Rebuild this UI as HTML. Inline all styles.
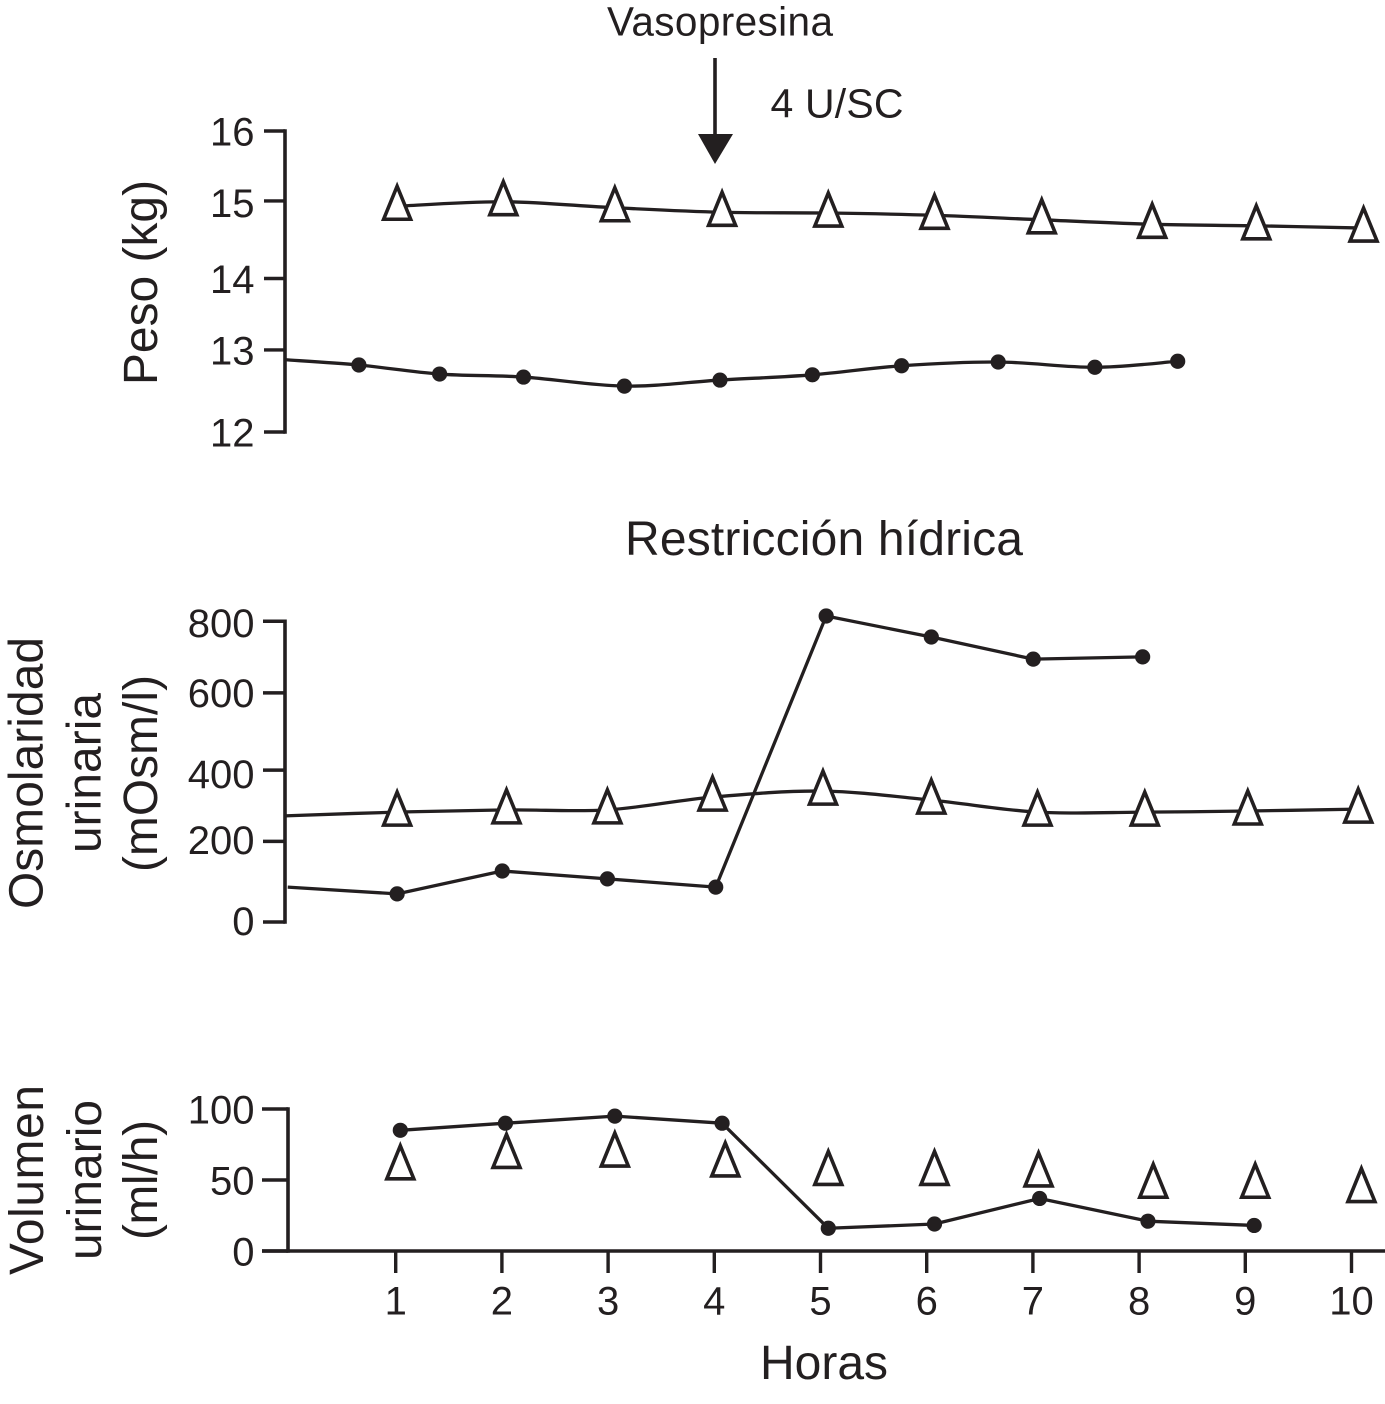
<!DOCTYPE html>
<html lang="es">
<head>
<meta charset="utf-8">
<title>Restricción hídrica y vasopresina</title>
<style>
html,body{margin:0;padding:0;background:#fff;}
svg{display:block;}
text{font-family:"Liberation Sans",Arial,sans-serif;fill:#231f20;}
</style>
</head>
<body>
<svg id="chart" xmlns="http://www.w3.org/2000/svg" width="1385" height="1404" viewBox="0 0 1385 1404">
  <rect x="0" y="0" width="1385" height="1404" fill="#ffffff"/>
  <text x="607" y="35.5" font-size="40.5" textLength="226">Vasopresina</text>
  <text x="770.5" y="117.5" font-size="41" textLength="133">4 U/SC</text>
  <line x1="715" y1="58" x2="715" y2="138" stroke="#231f20" stroke-width="3.6"/>
  <polygon points="698,134 733,134 715,164" fill="#231f20"/>
  <text x="625" y="555" font-size="48" textLength="398">Restricción hídrica</text>
  <text transform="translate(157,385) rotate(-90)" font-size="47.8" textLength="205">Peso (kg)</text>
  <text transform="translate(42.5,909) rotate(-90)" font-size="47.8" textLength="272">Osmolaridad</text>
  <text transform="translate(100.7,853) rotate(-90)" font-size="47.8" textLength="160">urinaria</text>
  <text transform="translate(157,872) rotate(-90)" font-size="47.8" textLength="197">(mOsm/l)</text>
  <text transform="translate(43,1275) rotate(-90)" font-size="47.8" textLength="190">Volumen</text>
  <text transform="translate(101,1260) rotate(-90)" font-size="47.8" textLength="160">urinario</text>
  <text transform="translate(157,1240) rotate(-90)" font-size="47.8" textLength="120">(ml/h)</text>
  <text x="760" y="1379" font-size="48" textLength="128">Horas</text>
  <g id="marks"></g>
</svg>
<script>
/* X axis */
const hourTicks = [1,2,3,4,5,6,7,8,9,10];

/* Peso (kg) */
const weightTickValues = [16,15.07,14.04,13.09,12];
const weightTickLabelValues = [16,15.05,14.04,13.09,12];
const weightTickLabels = ['16','15','14','13','12'];
const weightTriangleHours = [1.02,2.02,3.07,4.08,5.08,6.08,7.09,8.13,9.11,10.12];
const weightTriangleValues = [15.0,15.06,14.98,14.92,14.91,14.88,14.82,14.76,14.74,14.71];
const weightLineStartHour = [-0.03];
const weightLineStartValue = [12.96];
const weightDotHours = [0.66,1.42,2.21,3.16,4.06,4.93,5.77,6.68,7.59,8.37];
const weightDotValues = [12.89,12.77,12.73,12.61,12.69,12.76,12.88,12.93,12.86,12.94];

/* Osmolaridad urinaria (mOsm/l) */
const osmTickValues = [802,611,405,215,0];
const osmTickLabelValues = [799,612,396,220,4];
const osmTickLabels = ['800','600','400','200','0'];
const osmTriangleLineStartHour = [-0.04];
const osmTriangleLineStartValue = [283];
const osmTriangleHours = [1.02,2.05,3.0,3.99,5.03,6.05,7.05,8.06,9.03,10.07];
const osmTriangleValues = [293,299,299,333,349,325,293,293,296,301];
const osmDotLineStartHour = [-0.01];
const osmDotLineStartValue = [93];
const osmDotHours = [1.02,2.01,3.0,4.02,5.06,6.05,7.01,8.04];
const osmDotValues = [75,136,115,93,816,760,701,707];

/* Volumen urinario (ml/h) */
const volTickValues = [100,50,0];
const volTickLabelValues = [100,50,0];
const volTickLabels = ['100','50','0'];
const volTriangleHours = [1.05,2.05,3.07,4.11,5.08,6.08,7.06,8.14,9.1,10.1];
const volTriangleValues = [60,68,69,62,56,56,55,47,47,44];
const volDotHours = [1.05,2.04,3.07,4.08,5.08,6.08,7.07,8.09,9.09];
const volDotValues = [85,90,95,90,16,19,37,21,18];

const INK = '#231f20';
const NS = 'http://www.w3.org/2000/svg';
const root = document.getElementById('marks');

function xScale(h){ return 288.8 + h * 106.2; }
function tickX(h){ return xScale(h) + 0.7; }
function weightY(v){ return 432 - (v - 12) * 75.25; }
function osmY(v){ return 922 - v * 0.375; }
function volY(v){ return 1251 - v * 1.42; }

function make(tag, attrs, name){
  const el = document.createElementNS(NS, tag);
  for (const k in attrs) el.setAttribute(k, attrs[k]);
  
  
  root.appendChild(el);
  return el;
}

function drawYAxis(axisX, tickLeft, values, labelValues, labels, yFn, prefix){
  make('line', {x1:axisX, x2:axisX, y1:yFn(values[0])-1.7, y2:yFn(values[values.length-1])+1.7, stroke:INK, 'stroke-width':3.6}, prefix + '-y-axis');
  values.forEach(function(v, i){
    const y = yFn(v);
    make('line', {x1:tickLeft, x2:axisX, y1:y, y2:y, stroke:INK, 'stroke-width':3.4}, prefix + '-y-tick-' + labels[i]);
    const t = make('text', {x:254.5, y:yFn(labelValues[i])+14.5, 'font-size':40, 'text-anchor':'end'}, prefix + '-y-tick-label-' + labels[i]);
    t.textContent = labels[i];
  });
}

function drawLine(hours, values, yFn, name){
  const pts = hours.map(function(h, i){ return xScale(h) + ',' + yFn(values[i]); }).join(' ');
  make('polyline', {points:pts, fill:'none', stroke:INK, 'stroke-width':3.3, 'stroke-linejoin':'round'}, name);
}

function drawCurve(hours, values, yFn, name){
  const p = hours.map(function(h, i){ return [xScale(h), yFn(values[i])]; });
  let d = 'M' + p[0][0] + ' ' + p[0][1];
  for (let i = 0; i < p.length - 1; i++){
    const a = p[Math.max(i-1, 0)], b = p[i], c = p[i+1], e = p[Math.min(i+2, p.length-1)];
    d += ' C' + (b[0] + (c[0]-a[0])/6) + ' ' + (b[1] + (c[1]-a[1])/6) + ' ' +
         (c[0] - (e[0]-b[0])/6) + ' ' + (c[1] - (e[1]-b[1])/6) + ' ' + c[0] + ' ' + c[1];
  }
  make('path', {d:d, fill:'none', stroke:INK, 'stroke-width':3.3}, name);
}

function drawDots(hours, values, yFn, name){
  hours.forEach(function(h, i){
    make('circle', {cx:xScale(h), cy:yFn(values[i]), r:7.6, fill:INK}, name + '-' + (i+1));
  });
}

function drawTriangles(hours, values, yFn, name){
  hours.forEach(function(h, i){
    const x = xScale(h), y = yFn(values[i]);
    const pts = x + ',' + (y-20) + ' ' + (x+13.5) + ',' + (y+13) + ' ' + (x-13.5) + ',' + (y+13);
    make('polygon', {points:pts, fill:'#ffffff', stroke:INK, 'stroke-width':3.6, 'stroke-miterlimit':10}, name + '-' + (i+1));
  });
}

/* Panel: weight */
drawYAxis(285, 264, weightTickValues, weightTickLabelValues, weightTickLabels, weightY, 'weight');
drawCurve(weightLineStartHour.concat(weightDotHours), weightLineStartValue.concat(weightDotValues), weightY, 'weight-dehydration-line');
drawDots(weightDotHours, weightDotValues, weightY, 'weight-dot');
drawCurve(weightTriangleHours, weightTriangleValues, weightY, 'weight-control-line');
drawTriangles(weightTriangleHours, weightTriangleValues, weightY, 'weight-triangle');

/* Panel: osmolarity */
drawYAxis(285, 263, osmTickValues, osmTickLabelValues, osmTickLabels, osmY, 'osmolarity');
drawCurve(osmTriangleLineStartHour.concat(osmTriangleHours), osmTriangleLineStartValue.concat(osmTriangleValues), osmY, 'osmolarity-control-line');
drawLine(osmDotLineStartHour.concat(osmDotHours), osmDotLineStartValue.concat(osmDotValues), osmY, 'osmolarity-dehydration-line');
drawTriangles(osmTriangleHours, osmTriangleValues, osmY, 'osmolarity-triangle');
drawDots(osmDotHours, osmDotValues, osmY, 'osmolarity-dot');

/* Panel: urine volume */
drawYAxis(288, 262, volTickValues, volTickLabelValues, volTickLabels, volY, 'volume');
make('line', {x1:262, x2:1385, y1:volY(0), y2:volY(0), stroke:INK, 'stroke-width':3.4}, 'x-axis');
hourTicks.forEach(function(h){
  const x = tickX(h);
  make('line', {x1:x, x2:x, y1:volY(0), y2:1273, stroke:INK, 'stroke-width':3.4}, 'x-tick-' + h);
  const t = make('text', {x:x, y:1314.5, 'font-size':40, 'text-anchor':'middle'}, 'x-tick-label-' + h);
  t.textContent = h;
});
drawTriangles(volTriangleHours, volTriangleValues, volY, 'volume-triangle');
drawLine(volDotHours, volDotValues, volY, 'volume-dehydration-line');
drawDots(volDotHours, volDotValues, volY, 'volume-dot');
</script>
</body>
</html>
